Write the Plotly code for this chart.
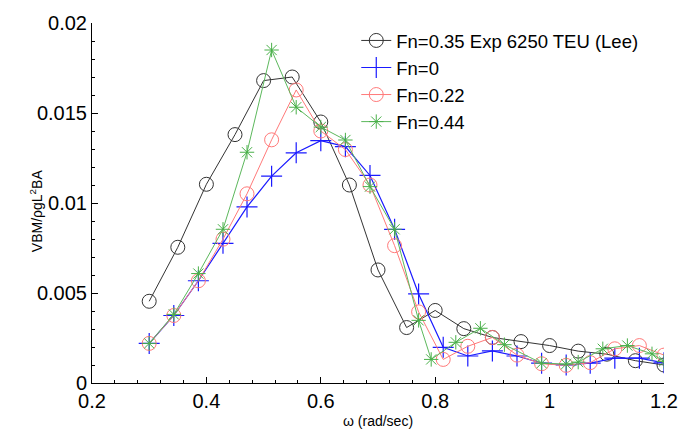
import plotly.graph_objects as go

# Experimental (Lee) frequencies and values
omega_exp = [0.30, 0.35, 0.40, 0.45, 0.50, 0.55, 0.60, 0.65, 0.70, 0.75,
             0.80, 0.85, 0.90, 0.95, 1.00, 1.05, 1.10, 1.15, 1.20]
vbm_exp = [0.00454, 0.00754, 0.01104, 0.01380, 0.01680, 0.01700, 0.01450,
           0.01100, 0.00628, 0.00308, 0.00403, 0.00302, 0.00253, 0.00230,
           0.00208, 0.00177, 0.00160, 0.00124, 0.00100]

# Simulation frequencies
omega_sim = [0.300, 0.343, 0.386, 0.429, 0.471, 0.514, 0.557, 0.600, 0.643,
             0.686, 0.729, 0.771, 0.814, 0.857, 0.900, 0.943, 0.986, 1.029,
             1.071, 1.114, 1.157, 1.200]
vbm_fn0 = [0.00220, 0.00375, 0.00568, 0.00776, 0.00978, 0.01149, 0.01279,
           0.01346, 0.01313, 0.01153, 0.00854, 0.00495, 0.00198, 0.00150,
           0.00178, 0.00150, 0.00110, 0.00100, 0.00110, 0.00138, 0.00138,
           0.00112]
vbm_fn022 = [0.00220, 0.00375, 0.00568, 0.00799, 0.01051, 0.01351, 0.01628,
             0.01400, 0.01297, 0.01100, 0.00763, 0.00395, 0.00131, 0.00204,
             0.00253, 0.00155, 0.00107, 0.00098, 0.00113, 0.00190, 0.00208,
             0.00155]

omega_fn044 = [0.300, 0.343, 0.386, 0.429, 0.471, 0.514, 0.557, 0.600, 0.643,
               0.686, 0.729, 0.771, 0.793, 0.836, 0.879, 0.921, 0.986, 1.029,
               1.050, 1.093, 1.136, 1.179, 1.200]
vbm_fn044 = [0.00220, 0.00381, 0.00608, 0.00854, 0.01282, 0.01850, 0.01532,
             0.01422, 0.01350, 0.01091, 0.00854, 0.00348, 0.00131, 0.00226,
             0.00304, 0.00213, 0.00110, 0.00105, 0.00116, 0.00190, 0.00208,
             0.00162, 0.00120]

names = ["Fn=0.35 Exp 6250 TEU (Lee)", "Fn=0", "Fn=0.22", "Fn=0.44"]

xticks = [0.2, 0.4, 0.6, 0.8, 1.0, 1.2]
xticklabels = ["0.2", "0.4", "0.6", "0.8", "1", "1.2"]
yticks = [0, 0.005, 0.01, 0.015, 0.02]
yticklabels = ["0", "0.005", "0.01", "0.015", "0.02"]

FONT = "Liberation Sans, Arial, sans-serif"

fig = go.Figure()
fig.add_trace(go.Scatter(
    x=omega_exp, y=vbm_exp, mode="lines+markers", name=names[0],
    line=dict(color="#333333", width=1),
    marker=dict(symbol="circle-open", size=14, color="#333333",
                line=dict(color="#333333", width=1))))
fig.add_trace(go.Scatter(
    x=omega_sim, y=vbm_fn0, mode="lines+markers", name=names[1],
    line=dict(color="#1a1aff", width=1.2),
    marker=dict(symbol="cross-thin-open", size=15, color="#1a1aff",
                line=dict(color="#1a1aff", width=1.2))))
fig.add_trace(go.Scatter(
    x=omega_sim, y=vbm_fn022, mode="lines+markers", name=names[2],
    line=dict(color="#ff7a7a", width=1),
    marker=dict(symbol="circle-open", size=14, color="#ff7a7a",
                line=dict(color="#ff7a7a", width=1))))
fig.add_trace(go.Scatter(
    x=omega_fn044, y=vbm_fn044, mode="lines+markers", name=names[3],
    line=dict(color="#5cb85c", width=1),
    marker=dict(symbol="asterisk-open", size=12, color="#49b049",
                line=dict(color="#49b049", width=1))))

fig.update_layout(
    width=694, height=432,
    margin=dict(l=92, r=30, t=17, b=49),
    paper_bgcolor="white", plot_bgcolor="white",
    font=dict(family=FONT, size=20, color="black"),
    showlegend=True,
    legend=dict(x=0.462, y=1.003, xanchor="left", yanchor="top",
                bgcolor="rgba(0,0,0,0)", borderwidth=0,
                font=dict(family=FONT, size=18.5, color="black"),
                itemwidth=30, tracegroupgap=0),
    xaxis=dict(range=[0.2, 1.2], showgrid=False, zeroline=False,
               showline=True, linecolor="black", linewidth=1,
               ticks="inside", ticklen=6, tickcolor="black",
               tickvals=xticks, ticktext=xticklabels,
               minor=dict(ticks="inside", ticklen=3, dtick=0.04,
                          tickcolor="black", showgrid=False),
               tickfont=dict(family=FONT, size=20)),
    yaxis=dict(range=[0, 0.02], showgrid=False, zeroline=False,
               showline=True, linecolor="black", linewidth=1,
               ticks="inside", ticklen=6, tickcolor="black",
               tickvals=yticks, ticktext=yticklabels,
               minor=dict(ticks="inside", ticklen=3, dtick=0.001,
                          tickcolor="black", showgrid=False),
               tickfont=dict(family=FONT, size=20)),
    annotations=[
        dict(text="\u03c9 (rad/sec)", xref="paper", yref="paper",
             x=0.5, y=-0.106, xanchor="center", yanchor="middle",
             showarrow=False, font=dict(family=FONT, size=14)),
        dict(text="VBM/\u03c1gL<sup>2</sup>BA", xref="paper", yref="paper",
             x=-0.098, y=0.48, xanchor="center", yanchor="middle",
             textangle=-90, showarrow=False,
             font=dict(family=FONT, size=14)),
    ],
)

fig.write_html("out.html",
               config={"displayModeBar": False},
               post_script="document.body.style.margin='0px';"
                           "document.body.style.padding='0px';")
